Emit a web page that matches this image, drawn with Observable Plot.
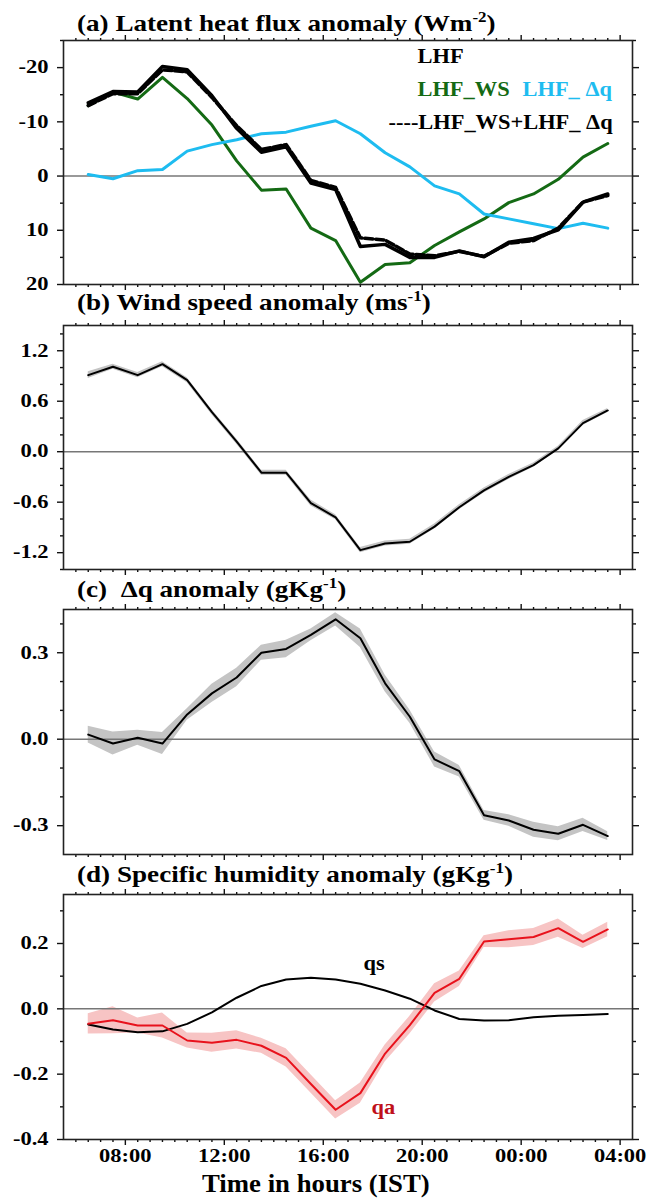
<!DOCTYPE html>
<html>
<head>
<meta charset="utf-8">
<script src="https://cdn.jsdelivr.net/npm/d3@7"></script>
<script src="https://cdn.jsdelivr.net/npm/@observablehq/plot@0.6"></script>
<style>
  html, body { margin: 0; padding: 0; background: #fff; }
  #wrap { position: relative; width: 647px; height: 1201px; overflow: hidden; font-family: "Liberation Serif", serif; font-weight: bold; }
  #wrap svg { position: absolute; left: 0; }
  .ttl { position: absolute; left: 77px; font-size: 24px; line-height: 24px; white-space: nowrap; color: #000; transform: scaleX(1.13); transform-origin: left center; }
  .ttl sup { font-size: 15px; vertical-align: 9px; line-height: 0; }
  .xl { position: absolute; left: 202px; top: 1171px; font-size: 25px; line-height: 25px; white-space: nowrap; transform: scaleX(1.07); transform-origin: left center; }
</style>
</head>
<body>
<div id="wrap">
  <div class="ttl" style="top:11px">(a) Latent heat flux anomaly (Wm<sup>-2</sup>)</div>
  <div class="ttl" style="top:290px">(b) Wind speed anomaly (ms<sup>-1</sup>)</div>
  <div class="ttl" style="top:577px">(c)&nbsp; Δq anomaly (gKg<sup>-1</sup>)</div>
  <div class="ttl" style="top:862px">(d) Specific humidity anomaly (gKg<sup>-1</sup>)</div>
  <div class="xl">Time in hours (IST)</div>
</div>
<script>
// ---- data (hours in IST; 24+ = next day) ----
const hours = [6.5, 7.5, 8.5, 9.5, 10.5, 11.5, 12.5, 13.5, 14.5, 15.5, 16.5, 17.5, 18.5, 19.5, 20.5, 21.5, 22.5, 23.5, 24.5, 25.5, 26.5, 27.5];

const xTickHours = [8, 12, 16, 20, 24, 28];
const xTickLabels = ["08:00", "12:00", "16:00", "20:00", "00:00", "04:00"];

// (a) latent heat flux anomaly (W m-2)
const lhf    = [-13.5, -15.6, -15.5, -20.2, -19.6, -14.8, -8.8, -4.4, -5.4, 1.3, 2.5, 13.0, 12.6, 15.0, 15.0, 13.8, 14.9, 12.2, 11.5, 9.9, 4.8, 3.3];
const lhfSum = [-13.0, -15.2, -15.2, -19.6, -19.2, -14.5, -9.3, -4.9, -5.8, 0.8, 2.1, 11.4, 11.8, 14.4, 14.7, 13.9, 14.8, 12.4, 11.9, 9.6, 4.8, 3.6];
const lhfWs  = [-13.0, -15.5, -14.2, -18.2, -14.3, -9.4, -2.8, 2.6, 2.4, 9.6, 11.9, 19.6, 16.3, 16.0, 12.8, 10.3, 7.9, 4.9, 3.3, 0.6, -3.5, -6.0];
const lhfDq  = [-0.3, 0.5, -1.0, -1.2, -4.6, -5.8, -6.7, -7.8, -8.1, -9.2, -10.2, -7.8, -4.3, -1.7, 1.8, 3.3, 7.0, 7.9, 8.8, 9.7, 8.7, 9.6];

// (b) wind speed anomaly (m s-1) and spread
const wind       = [0.91, 1.01, 0.91, 1.04, 0.85, 0.47, 0.12, -0.25, -0.25, -0.61, -0.78, -1.17, -1.09, -1.07, -0.89, -0.66, -0.46, -0.30, -0.16, 0.04, 0.34, 0.49];
const windSpread = [0.04, 0.03, 0.03, 0.03, 0.03, 0.03, 0.03, 0.03, 0.03, 0.035, 0.03, 0.03, 0.03, 0.03, 0.03, 0.03, 0.03, 0.03, 0.025, 0.025, 0.03, 0.025];

// (c) delta-q anomaly (g kg-1) and spread
const dq       = [0.016, -0.015, 0.005, -0.015, 0.086, 0.159, 0.214, 0.300, 0.313, 0.362, 0.416, 0.350, 0.194, 0.078, -0.070, -0.111, -0.264, -0.282, -0.314, -0.328, -0.297, -0.336];
const dqSpread = [0.029, 0.04, 0.026, 0.038, 0.02, 0.032, 0.032, 0.026, 0.03, 0.02, 0.023, 0.032, 0.029, 0.023, 0.026, 0.02, 0.017, 0.02, 0.026, 0.024, 0.023, 0.015];

// (d) specific humidity anomaly (g kg-1)
const qa       = [-0.046, -0.035, -0.051, -0.051, -0.097, -0.104, -0.095, -0.113, -0.150, -0.230, -0.309, -0.258, -0.137, -0.050, 0.049, 0.092, 0.206, 0.213, 0.220, 0.247, 0.205, 0.243];
const qaSpread = [0.031, 0.041, 0.023, 0.038, 0.023, 0.029, 0.028, 0.023, 0.028, 0.028, 0.028, 0.031, 0.026, 0.027, 0.028, 0.024, 0.018, 0.026, 0.026, 0.028, 0.02, 0.022];
const qs       = [-0.048, -0.063, -0.072, -0.069, -0.046, -0.011, 0.034, 0.070, 0.090, 0.095, 0.090, 0.077, 0.056, 0.031, -0.005, -0.031, -0.036, -0.035, -0.026, -0.021, -0.019, -0.016];

// ---- tables ----
const rowsA = hours.map((h, i) => ({h, lhf: lhf[i], sum: lhfSum[i], ws: lhfWs[i], dq: lhfDq[i]}));
const rowsB = hours.map((h, i) => ({h, v: wind[i], lo: wind[i] - windSpread[i], hi: wind[i] + windSpread[i]}));
const rowsC = hours.map((h, i) => ({h, v: dq[i], lo: dq[i] - dqSpread[i], hi: dq[i] + dqSpread[i]}));
const rowsD = hours.map((h, i) => ({h, qa: qa[i], qs: qs[i], lo: qa[i] - qaSpread[i], hi: qa[i] + qaSpread[i]}));

const GREEN = "#146a14", BLUE = "#1ebcf0", RED = "#e8121c", DARKRED = "#c0101a";
const xDomain = [5.5, 28.5];
const xMinor = d3.range(6, 28.01, 0.5).filter(v => !xTickHours.includes(v));
const xLab = new Map(xTickHours.map((h, i) => [h, xTickLabels[i]]));
const blank = () => "";
const fmt1 = d => d.toFixed(1);
const fmt0 = d => String(d);

function axes({yMajor, yMinor, yFmt, xLabels}) {
  const tk = {stroke: "#111", strokeWidth: 1.4, label: null};
  return [
    Plot.axisX(xTickHours, {...tk, anchor: "bottom", tickSize: 6, tickPadding: 4, tickFormat: xLabels ? (d => xLab.get(d)) : blank, fontSize: 18}),
    Plot.axisX(xMinor, {...tk, anchor: "bottom", tickSize: 3, tickFormat: blank}),
    Plot.axisX(xTickHours, {...tk, anchor: "top", tickSize: 6, tickFormat: blank}),
    Plot.axisX(xMinor, {...tk, anchor: "top", tickSize: 3, tickFormat: blank}),
    Plot.axisY(yMajor, {...tk, anchor: "left", tickSize: 6, tickPadding: 9, tickFormat: yFmt, fontSize: 18}),
    Plot.axisY(yMinor, {...tk, anchor: "left", tickSize: 3, tickFormat: blank}),
    Plot.axisY(yMajor, {...tk, anchor: "right", tickSize: 6, tickFormat: blank}),
    Plot.axisY(yMinor, {...tk, anchor: "right", tickSize: 3, tickFormat: blank}),
    Plot.frame({stroke: "#222", strokeWidth: 1.6})
  ];
}

function panel({top, frameH, marginBottom = 10, y, marks, axisOpts}) {
  const marginTop = 8;
  const svg = Plot.plot({
    width: 647,
    height: marginTop + frameH + marginBottom,
    marginLeft: 63, marginRight: 15, marginTop, marginBottom,
    x: {domain: xDomain},
    y,
    style: {fontFamily: "Liberation Serif", fontWeight: "bold", fontSize: "18px", color: "#000", background: "transparent", overflow: "visible"},
    marks: [...marks, ...axes(axisOpts)]
  });
  svg.style.top = (top - marginTop) + "px";
  document.getElementById("wrap").appendChild(svg);
  return svg;
}

const legendText = {fontSize: 20, fontWeight: "bold", frameAnchor: "top-left", textAnchor: "start", lineAnchor: "bottom"};

// (a)
panel({
  top: 40, frameH: 244,
  y: {domain: [-25, 20], reverse: true},
  axisOpts: {yMajor: [-20, -10, 0, 10, 20], yMinor: [-25, -15, -5, 5, 15], yFmt: fmt0},
  marks: [
    Plot.ruleY([0], {stroke: "#777", strokeWidth: 1.5}),
    Plot.lineY(rowsA, {x: "h", y: "ws", stroke: GREEN, strokeWidth: 3}),
    Plot.lineY(rowsA, {x: "h", y: "dq", stroke: BLUE, strokeWidth: 3}),
    Plot.lineY(rowsA, {x: "h", y: "lhf", stroke: "#000", strokeWidth: 3.5}),
    Plot.lineY(rowsA, {x: "h", y: "sum", stroke: "#000", strokeWidth: 3.5, strokeDasharray: "8,3"}),
    Plot.text(["LHF"], {...legendText, text: d => d, dx: 354, dy: 22, fill: "#000"}),
    Plot.text(["LHF_WS"], {...legendText, text: d => d, dx: 354, dy: 55, fill: GREEN}),
    Plot.text(["LHF_ Δq"], {...legendText, text: d => d, dx: 459, dy: 55, fill: BLUE}),
    Plot.text(["----LHF_WS+LHF_ Δq"], {...legendText, text: d => d, dx: 325, dy: 88, fill: "#000"})
  ]
});

// (b)
panel({
  top: 324.5, frameH: 244,
  y: {domain: [-1.4, 1.5]},
  axisOpts: {yMajor: [-1.2, -0.6, 0, 0.6, 1.2], yMinor: [-1.4, -1.0, -0.8, -0.4, -0.2, 0.2, 0.4, 0.8, 1.0, 1.4], yFmt: fmt1},
  marks: [
    Plot.areaY(rowsB, {x: "h", y1: "lo", y2: "hi", fill: "#c4c4c4"}),
    Plot.ruleY([0], {stroke: "#777", strokeWidth: 1.5}),
    Plot.lineY(rowsB, {x: "h", y: "v", stroke: "#000", strokeWidth: 2})
  ]
});

// (c)
panel({
  top: 609, frameH: 245,
  y: {domain: [-0.4, 0.45]},
  axisOpts: {yMajor: [-0.3, 0, 0.3], yMinor: [-0.2, -0.1, 0.1, 0.2, 0.4], yFmt: fmt1},
  marks: [
    Plot.areaY(rowsC, {x: "h", y1: "lo", y2: "hi", fill: "#c4c4c4"}),
    Plot.ruleY([0], {stroke: "#777", strokeWidth: 1.5}),
    Plot.lineY(rowsC, {x: "h", y: "v", stroke: "#000", strokeWidth: 2})
  ]
});

// (d)
panel({
  top: 893.5, frameH: 245, marginBottom: 60,
  y: {domain: [-0.4, 0.35]},
  axisOpts: {yMajor: [-0.4, -0.2, 0, 0.2], yMinor: [-0.3, -0.1, 0.1, 0.3], yFmt: fmt1, xLabels: true},
  marks: [
    Plot.areaY(rowsD, {x: "h", y1: "lo", y2: "hi", fill: "#f7c4c4"}),
    Plot.ruleY([0], {stroke: "#777", strokeWidth: 1.5}),
    Plot.lineY(rowsD, {x: "h", y: "qs", stroke: "#000", strokeWidth: 2}),
    Plot.lineY(rowsD, {x: "h", y: "qa", stroke: RED, strokeWidth: 2}),
    Plot.text(["qs"], {...legendText, text: d => d, dx: 300, dy: 75, fill: "#000"}),
    Plot.text(["qa"], {...legendText, text: d => d, dx: 308, dy: 219, fill: DARKRED})
  ]
});

// widen glyphs horizontally to match the reference's wide bold face
document.querySelectorAll("#wrap svg text").forEach(t => {
  const w = t.getComputedTextLength();
  if (!w) return;
  const g = t.closest("g");
  const isTick = g && /tick label/.test(g.getAttribute("aria-label") || "");
  t.setAttribute("textLength", (w * (isTick ? 1.25 : 1.12)).toFixed(1));
  t.setAttribute("lengthAdjust", "spacingAndGlyphs");
});
</script>
</body>
</html>
